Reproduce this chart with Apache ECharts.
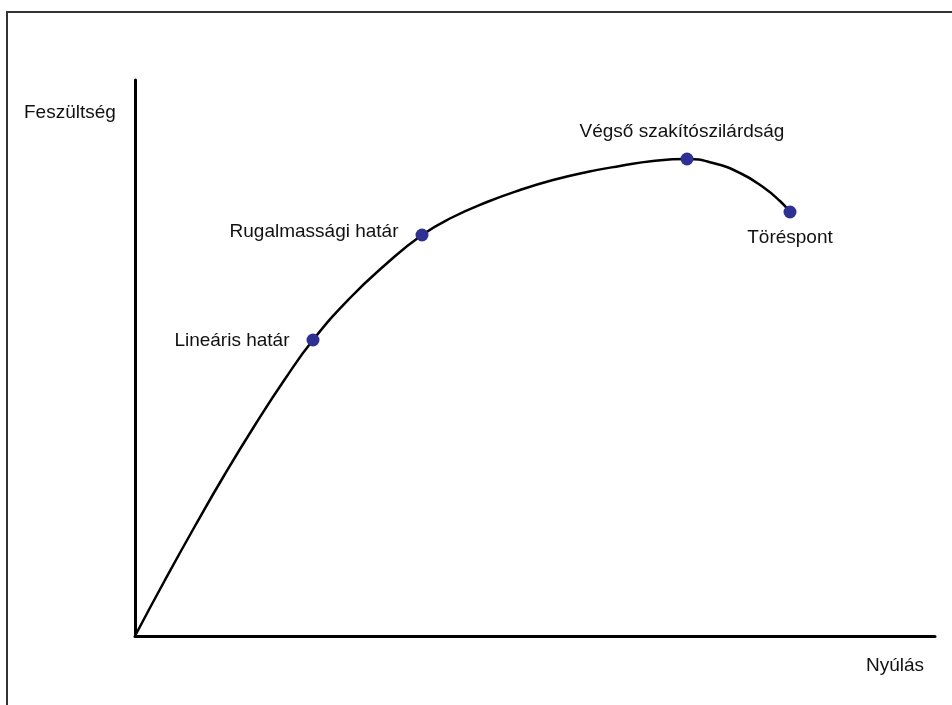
<!DOCTYPE html>
<html>
<head>
<meta charset="utf-8">
<title>Feszültség - Nyúlás</title>
<script src="https://cdn.jsdelivr.net/npm/echarts@6/dist/echarts.min.js"></script>
<style>
  html, body { margin: 0; padding: 0; background: #fff; }
  #main { width: 952px; height: 705px; }
</style>
</head>
<body>
<div id="main"></div>
<script>
// görbe pontjai (nyúlás, feszültség)
var curveX = [0, 30, 60, 90, 120, 150, 178, 215, 250, 287, 318, 352, 385, 418, 452, 485, 518, 552, 578, 605, 628, 645, 655];
var curveY = [0, 56, 110, 162, 211, 257, 296, 338, 371, 401, 419, 434, 446, 456, 464, 470, 475, 477, 473, 463, 449, 435, 424];

// kiemelt pontok
var pointNames = ['Lineáris határ', 'Rugalmassági határ', 'Végső szakítószilárdság', 'Töréspont'];
var pointX = [178, 287, 552, 655];
var pointY = [296, 401, 477, 424];

var xName = 'Nyúlás';
var yName = 'Feszültség';

var chart = echarts.init(document.getElementById('main'));

var labelPos = [
  { position: 'left', distance: 17, offset: [0, 1] },
  { position: 'left', distance: 17, offset: [0, -3] },
  { position: 'top', distance: 11, offset: [-5, 0] },
  { position: 'bottom', distance: 9, offset: [0, 1] }
];

var pts = pointX.map(function (x, i) {
  return {
    name: pointNames[i],
    value: [x, pointY[i]],
    label: labelPos[i]
  };
});

var font = '"Liberation Sans", Arial, sans-serif';

chart.setOption({
  backgroundColor: '#fff',
  animation: false,
  grid: { left: 135, right: 17, top: 80, bottom: 69 },
  xAxis: {
    type: 'value', min: 0, max: 800,
    axisLine: { show: true, onZero: false, lineStyle: { color: '#000', width: 3 } },
    axisTick: { show: false }, axisLabel: { show: false }, splitLine: { show: false }
  },
  yAxis: {
    type: 'value', min: 0, max: 556,
    axisLine: { show: true, onZero: false, lineStyle: { color: '#000', width: 3 } },
    axisTick: { show: false }, axisLabel: { show: false }, splitLine: { show: false }
  },
  graphic: [
    {
      type: 'polyline', silent: true,
      shape: { points: [[7, 705], [7, 12], [952, 12]] },
      style: { stroke: '#333', lineWidth: 2, fill: null }
    },
    {
      type: 'text', left: 24, top: 103,
      style: { text: yName, font: '19px ' + font, fill: '#111' }
    },
    {
      type: 'text', left: 866, top: 656,
      style: { text: xName, font: '19px ' + font, fill: '#111' }
    }
  ],
  series: [
    {
      type: 'line',
      data: curveX.map(function (x, i) { return [x, curveY[i]]; }),
      smooth: 0.5,
      showSymbol: false,
      lineStyle: { color: '#000', width: 2.5 },
      z: 2
    },
    {
      type: 'scatter',
      data: pts,
      symbolSize: 13,
      itemStyle: { color: '#2e3192', opacity: 1 },
      label: {
        show: true,
        formatter: '{b}',
        color: '#111',
        fontSize: 19,
        fontFamily: font
      },
      z: 3
    }
  ]
});
</script>
</body>
</html>
